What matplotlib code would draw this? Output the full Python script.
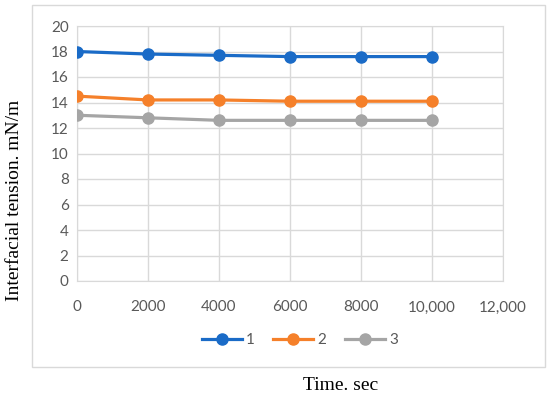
import matplotlib
matplotlib.use("Agg")
import matplotlib.pyplot as plt
from matplotlib.patches import Rectangle

time_sec = [0, 2000, 4000, 6000, 8000, 10000]
series_1 = [18.0, 17.8, 17.7, 17.6, 17.6, 17.6]
series_2 = [14.5, 14.2, 14.2, 14.1, 14.1, 14.1]
series_3 = [13.0, 12.8, 12.6, 12.6, 12.6, 12.6]
labels = ["1", "2", "3"]
x_ticks = [0, 2000, 4000, 6000, 8000, 10000, 12000]
x_tick_labels = ["0", "2000", "4000", "6000", "8000", "10,000", "12,000"]
y_ticks = list(range(0, 21, 2))

colors = ["#1a6bc7", "#f5802a", "#a5a5a5"]
W, H = 550, 398
fig = plt.figure(figsize=(W / 100, H / 100), dpi=100)

# outer chart border
fig.patches.append(Rectangle((32 / W, 1 - 367 / H), (545 - 32) / W, (367 - 5) / H,
                             transform=fig.transFigure, fill=False,
                             edgecolor="#d9d9d9", linewidth=1.0))

ax = fig.add_axes([77 / W, 1 - 281 / H, (503 - 77) / W, (281 - 26) / H])
for ys, lab, c in zip([series_1, series_2, series_3], labels, colors):
    ax.plot(time_sec, ys, color=c, lw=2.3, marker="o", ms=8, label=lab, zorder=3)

ax.set_xlim(0, 12000)
ax.set_ylim(0, 20)
ax.set_xticks(x_ticks)
ax.set_xticklabels(x_tick_labels)
ax.set_yticks(y_ticks)
ax.grid(True, color="#d9d9d9", lw=1.0)
ax.set_axisbelow(True)
for s in ax.spines.values():
    s.set_color("#d9d9d9")
ax.tick_params(length=0, labelsize=11, labelcolor="#595959", pad=6)
ax.tick_params(axis="x", pad=14)
for t in ax.get_xticklabels() + ax.get_yticklabels():
    t.set_fontfamily("Lato")

leg = fig.legend(loc="center", bbox_to_anchor=(300 / W, 1 - 340 / H), ncol=3,
                 frameon=False, prop={"family": "Lato", "size": 11},
                 handlelength=2.6, columnspacing=1.2, handletextpad=0.3)
for t in leg.get_texts():
    t.set_color("#595959")

fig.text(15 / W, 1 - 200 / H, "Interfacial tension. mN/m", rotation=90,
         ha="center", va="center", family="Liberation Serif", fontsize=14)
fig.text(341 / W, 1 - 385 / H, "Time. sec", ha="center", va="center",
         family="Liberation Serif", fontsize=14)

fig.savefig("out.png", dpi=100)
